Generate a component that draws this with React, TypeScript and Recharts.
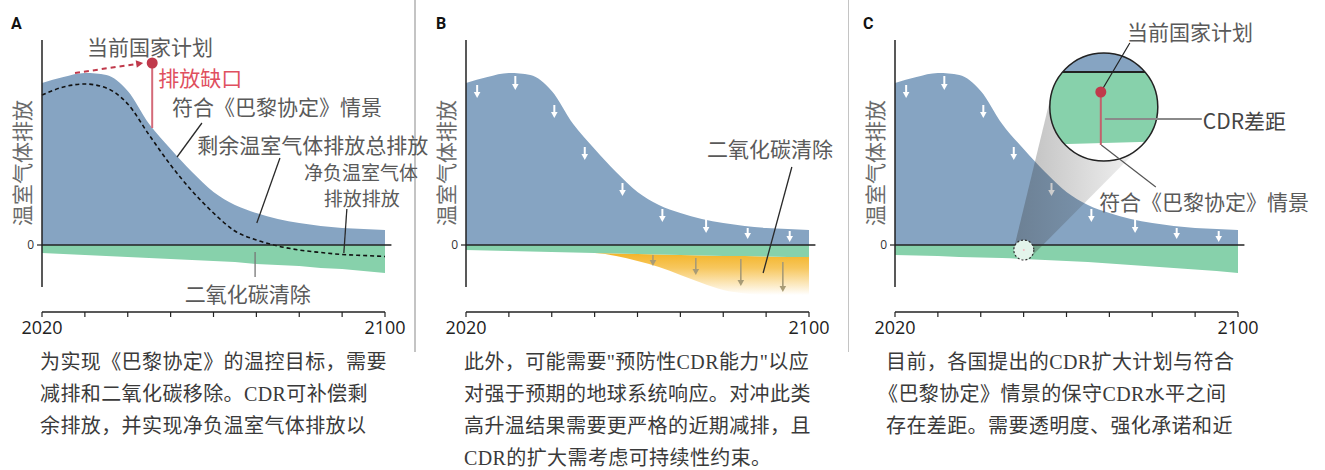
import React from 'react';
import {
  Area,
  ComposedChart,
  Line,
  ReferenceDot,
  ReferenceLine,
  XAxis,
  YAxis,
} from 'recharts';

const FONT = '"Noto Sans CJK SC", "Noto Sans", sans-serif';

// emission units are arbitrary; 0 = net zero
const years = [2020, 2025, 2030, 2035, 2040, 2045, 2050, 2055, 2060, 2065, 2070, 2075, 2080, 2085, 2090, 2095, 2100];
const remaining = [162, 168, 172, 170, 154, 121, 96, 73, 53, 40, 32, 26, 22, 19, 17, 16, 15];
const netA = [150, 158, 161, 157, 141, 110, 80, 54, 32, 14, 5, -1, -5, -7.5, -9.5, -10.5, -11.5];
const removalA = [-8, -9, -10, -11, -12, -13, -14, -15, -16, -17, -19, -20, -21, -23, -24, -26, -28];
const removalB = [-5, -5.5, -6, -6.5, -7, -7.5, -8, -8.5, -9, -9.5, -10, -10.5, -11, -11, -11.5, -12, -12];
const extraB = [-5, -5.5, -6, -6.5, -7, -7.5, -8, -11, -16, -22, -30, -38, -45, -48.5, -50, -50, -50];
const removalC = [-10, -10.5, -11, -12, -12.5, -13, -14, -15, -16, -17, -18.5, -20, -21.5, -23, -24.5, -26, -28];

const tickYears = [2020, 2030, 2040, 2050, 2060, 2070, 2080, 2090, 2100];
const tickLabels = [2020, 2100];

// white "cut" arrows (B, C)
const cutYears = [2022.6, 2031.5, 2040.6, 2047.7, 2056.5, 2065.8, 2076, 2085.7, 2095.5];
const cutTop = [160, 169, 140, 98, 62, 36, 26, 17, 14];
const cutBottom = [147, 155, 127, 85, 49, 23, 12, 6, 3];

// grey "extra removal" arrows (B)
const extraYears = [2063.6, 2073.6, 2084.1, 2093.9];
const extraTop = [-10, -13, -14, -17];
const extraBottom = [-21, -30, -41, -47];

const BLUE = '#86a4c2';
const GREEN = '#87d1ab';
const INK = '#222';
const TEXT = '#5a5a5a';
const RED = '#c0394b';

const W = 415;
const H = 345;
const margin = { top: 40, right: 30, bottom: 3, left: 12 };

const dataA = years.map((year, i) => ({ year, blue: [0, remaining[i]], green: [removalA[i], 0], net: netA[i] }));
const dataB = years.map((year, i) => ({ year, blue: [0, remaining[i]], green: [removalB[i], 0], extra: [extraB[i], removalB[i]] }));
const dataC = years.map((year, i) => ({ year, blue: [0, remaining[i]], green: [removalC[i], 0] }));

const arrow = (color: string, width: number, head: number, dash?: string) => (p: any) => {
  const { x1, y1, x2, y2 } = p;
  const a = Math.atan2(y2 - y1, x2 - x1);
  const bx = x2 - head * Math.cos(a);
  const by = y2 - head * Math.sin(a);
  const hw = head * 0.55;
  const nx = -Math.sin(a) * hw;
  const ny = Math.cos(a) * hw;
  return (
    <g>
      <line x1={x1} y1={y1} x2={bx} y2={by} stroke={color} strokeWidth={width} strokeDasharray={dash} />
      <path d={`M${x2},${y2}L${bx + nx},${by + ny}L${bx - nx},${by - ny}Z`} fill={color} />
    </g>
  );
};

const note = (key: string, x: number, y: number, text: string, o: any = {}) => (
  <ReferenceDot
    key={key}
    x={x}
    y={y}
    r={1}
    ifOverflow="visible"
    shape={(p: any) => (
      <text
        x={p.cx}
        y={p.cy}
        textAnchor={o.anchor ?? 'middle'}
        dominantBaseline="central"
        fontSize={o.size ?? 21}
        fill={o.color ?? TEXT}
        fontFamily={FONT}
        transform={o.rotate ? `rotate(-90 ${p.cx} ${p.cy})` : undefined}
      >
        {text}
      </text>
    )}
  />
);

const leader = (key: string, a: [number, number], b: [number, number], color = '#2a2a2a', width = 1.3) => (
  <ReferenceLine
    key={key}
    segment={[{ x: a[0], y: a[1] }, { x: b[0], y: b[1] }]}
    ifOverflow="visible"
    stroke={color}
    strokeWidth={width}
  />
);

const axes = () => [
  <XAxis
    key="x"
    dataKey="year"
    type="number"
    domain={[2020, 2100]}
    ticks={tickYears}
    interval={0}
    tickFormatter={(v: number) => (tickLabels.includes(v) ? String(v) : '')}
    tickSize={5}
    tickMargin={4}
    height={30}
    axisLine={{ stroke: INK, strokeWidth: 1.5 }}
    tickLine={{ stroke: INK, strokeWidth: 1.2 }}
    tick={{ fontSize: 18, fill: INK, fontFamily: '"Open Sans", sans-serif' }}
  />,
  <YAxis
    key="y"
    type="number"
    domain={[-67, 205]}
    ticks={[0]}
    allowDataOverflow
    width={30}
    axisLine={false}
    tickSize={5}
    tickMargin={3}
    tickLine={{ stroke: INK, strokeWidth: 1.2 }}
    tick={{ fontSize: 12, fill: '#333', fontFamily: '"Open Sans", sans-serif' }}
  />,
];

const frame = () => [
  <ReferenceLine key="vaxis" segment={[{ x: 2020, y: -42 }, { x: 2020, y: 205 }]} ifOverflow="visible" stroke={INK} strokeWidth={1.5} />,
  <ReferenceLine key="zero" segment={[{ x: 2020, y: 0 }, { x: 2101.5, y: 0 }]} ifOverflow="visible" stroke={INK} strokeWidth={1.5} />,
  note('ylab', 2015.2, 82, '温室气体排放', { rotate: true, color: '#6a6a6a' }),
];

const cutArrows = () =>
  cutYears.map((yr, i) => (
    <ReferenceLine
      key={'cut' + i}
      segment={[{ x: yr, y: cutTop[i] }, { x: yr, y: cutBottom[i] }]}
      ifOverflow="visible"
      shape={arrow('#ffffff', 2, 6)}
    />
  ));

const lens = (p: any) => {
  const cx = p.cx;
  const cy = p.cy;
  const R = 54;
  const sx = cx - 80;
  const sy = cy + 143;
  const r = 10;
  const dx = cx - sx;
  const dy = cy - sy;
  const L = Math.hypot(dx, dy);
  const ux = dx / L;
  const uy = dy / L;
  const k = (r - R) / L;
  const s = Math.sqrt(1 - k * k);
  const n1 = [k * ux - s * uy, k * uy + s * ux];
  const n2 = [k * ux + s * uy, k * uy - s * ux];
  const pts = [
    [sx + r * n1[0], sy + r * n1[1]],
    [cx + R * n1[0], cy + R * n1[1]],
    [cx + R * n2[0], cy + R * n2[1]],
    [sx + r * n2[0], sy + r * n2[1]],
  ]
    .map((q) => q.join(','))
    .join(' ');
  return (
    <g>
      <defs>
        <linearGradient id="coneFade" gradientUnits="userSpaceOnUse" x1={sx - r} y1={0} x2={cx + R} y2={0}>
          <stop offset="0" stopColor="#3a3a3a" stopOpacity={0.34} />
          <stop offset="1" stopColor="#3a3a3a" stopOpacity={0.02} />
        </linearGradient>
        <clipPath id="lensClip">
          <circle cx={cx} cy={cy} r={R} />
        </clipPath>
      </defs>
      <polygon points={pts} fill="url(#coneFade)" />
      <circle cx={cx} cy={cy} r={R} fill="#fff" />
      <g clipPath="url(#lensClip)">
        <rect x={cx - R} y={cy - R} width={2 * R} height={R - 35} fill={BLUE} />
        <path d={`M${cx - R},${cy - 35}L${cx + R},${cy - 35}L${cx + R},${cy + 34.5}Q${cx},${cy + 36} ${cx - R},${cy + 37.5}Z`} fill={GREEN} />
        <line x1={cx - R} x2={cx + R} y1={cy - 35} y2={cy - 35} stroke={INK} strokeWidth={2} />
      </g>
      <circle cx={cx} cy={cy} r={R} fill="none" stroke={INK} strokeWidth={1.5} />
      <circle cx={sx} cy={sy} r={r} fill="#e3f4eb" stroke="#333" strokeWidth={1.2} strokeDasharray="2 2" />
      <circle cx={sx} cy={sy} r={1} fill="#f2b8c0" />
      <line x1={cx + 1} y1={cy + 12} x2={cx + 98} y2={cy + 12} stroke="#8a8a8a" strokeWidth={1.8} />
      <line x1={cx - 2.5} y1={cy + 38} x2={cx + 52} y2={cy + 80} stroke="#555" strokeWidth={1.2} />
      <line x1={cx - 3} y1={cy - 15} x2={cx - 3} y2={cy + 38} stroke="#c4606c" strokeWidth={2} />
      <line x1={cx + 26} y1={cy - 64} x2={cx - 3} y2={cy - 15} stroke={INK} strokeWidth={1.2} />
      <circle cx={cx - 3} cy={cy - 15} r={5.5} fill={RED} />
    </g>
  );
};

function Panel({ left, data, children }: { left: number; data: any[]; children: React.ReactNode }) {
  return (
    <div style={{ position: 'absolute', left, top: 0 }}>
      <ComposedChart width={W} height={H} data={data} margin={margin}>
        {children}
      </ComposedChart>
    </div>
  );
}

const capStyle: React.CSSProperties = {
  position: 'absolute',
  top: 346,
  fontFamily: '"Liberation Serif", "Noto Sans CJK SC", serif',
  fontSize: 20,
  letterSpacing: 0.4,
  lineHeight: '32px',
  color: '#3a3a3a',
  whiteSpace: 'nowrap',
};

const letter = (left: number, ch: string) => (
  <div style={{ position: 'absolute', left, top: 14, fontFamily: 'Roboto, sans-serif', fontWeight: 700, fontSize: 16, color: '#111' }}>
    {ch}
  </div>
);

export default function App() {
  return (
    <div style={{ position: 'absolute', left: 0, top: 0, width: 1325, height: 470, background: '#fff', overflow: 'hidden' }}>
      <style>{'.recharts-surface{overflow:visible}'}</style>
      <div style={{ position: 'absolute', left: 414, top: 0, width: 1.5, height: 352, background: '#c4c4c4' }} />
      <div style={{ position: 'absolute', left: 847.5, top: 0, width: 1.5, height: 352, background: '#c4c4c4' }} />
      {letter(11, 'A')}
      {letter(436, 'B')}
      {letter(863, 'C')}

      <Panel left={0} data={dataA}>
        {axes()}
        <Area dataKey="blue" type="monotone" fill={BLUE} fillOpacity={1} stroke="none" isAnimationActive={false} />
        <Area dataKey="green" type="monotone" fill={GREEN} fillOpacity={1} stroke="none" isAnimationActive={false} />
        <Line dataKey="net" type="monotone" stroke="#111" strokeWidth={1.6} strokeDasharray="4 3" dot={false} isAnimationActive={false} />
        {frame()}
        <ReferenceLine segment={[{ x: 2027.7, y: 172 }, { x: 2043.6, y: 182 }]} ifOverflow="visible" shape={arrow(RED, 2, 7, '5 4')} />
        <ReferenceLine segment={[{ x: 2045.7, y: 182 }, { x: 2045.7, y: 117 }]} ifOverflow="visible" stroke="#d46a78" strokeWidth={2} />
        <ReferenceDot x={2045.7} y={182} r={5.5} fill={RED} stroke="none" ifOverflow="visible" />
        {leader('l1', [2057.3, 122], [2051.5, 88])}
        {leader('l2', [2075.5, 87], [2070.1, 22])}
        {leader('l3', [2091.1, 36], [2090.4, -8])}
        {leader('l4', [2069.7, -7], [2069.7, -32], '#777')}
        {note('t1', 2045.2, 199, '当前国家计划')}
        {note('t2', 2056.9, 168, '排放缺口', { color: '#e0505f' })}
        {note('t3', 2074.8, 139, '符合《巴黎协定》情景')}
        {note('t4', 2056.2, 101, '剩余温室气体排放总排放', { anchor: 'start' })}
        {note('t5', 2094.4, 74, '净负温室气体', { size: 19 })}
        {note('t6', 2094.6, 48, '排放排放', { size: 19 })}
        {note('t7', 2068, -48, '二氧化碳清除')}
      </Panel>

      <Panel left={424} data={dataB}>
        <defs>
          <linearGradient id="extraFade" x1="0" y1="0" x2="0" y2="1">
            <stop offset="0" stopColor="#f3b01c" />
            <stop offset="0.4" stopColor="#f7c75e" />
            <stop offset="1" stopColor="#ffffff" />
          </linearGradient>
        </defs>
        {axes()}
        <Area dataKey="blue" type="monotone" fill={BLUE} fillOpacity={1} stroke="none" isAnimationActive={false} />
        <Area dataKey="extra" type="monotone" fill="url(#extraFade)" fillOpacity={1} stroke="none" isAnimationActive={false} />
        <Area dataKey="green" type="monotone" fill={GREEN} fillOpacity={1} stroke="none" isAnimationActive={false} />
        {frame()}
        {cutArrows()}
        {extraYears.map((yr, i) => (
          <ReferenceLine
            key={'ex' + i}
            segment={[{ x: yr, y: extraTop[i] }, { x: yr, y: extraBottom[i] }]}
            ifOverflow="visible"
            shape={arrow('#a89b76', 1.6, 6)}
          />
        ))}
        {leader('lb', [2096.0, 78], [2089.3, -28])}
        {note('tb', 2090.9, 97, '二氧化碳清除')}
      </Panel>

      <Panel left={853} data={dataC}>
        {axes()}
        <Area dataKey="blue" type="monotone" fill={BLUE} fillOpacity={1} stroke="none" isAnimationActive={false} />
        <Area dataKey="green" type="monotone" fill={GREEN} fillOpacity={1} stroke="none" isAnimationActive={false} />
        {frame()}
        {cutArrows()}
        <ReferenceDot x={2068.7} y={138} r={54} ifOverflow="visible" shape={lens} />
        {note('tc1', 2088.8, 214, '当前国家计划')}
        {note('tc2', 2091.8, 125, 'CDR差距', { anchor: 'start', color: '#444' })}
        {note('tc3', 2092.1, 44, '符合《巴黎协定》情景')}
      </Panel>

      <div style={{ ...capStyle, left: 40 }}>
        <div>为实现《巴黎协定》的温控目标，需要</div>
        <div>减排和二氧化碳移除。CDR可补偿剩</div>
        <div>余排放，并实现净负温室气体排放以</div>
      </div>
      <div style={{ ...capStyle, left: 464 }}>
        <div>此外，可能需要"预防性CDR能力"以应</div>
        <div>对强于预期的地球系统响应。对冲此类</div>
        <div>高升温结果需要更严格的近期减排，且</div>
        <div>CDR的扩大需考虑可持续性约束。</div>
      </div>
      <div style={{ ...capStyle, left: 886 }}>
        <div>目前，各国提出的CDR扩大计划与符合</div>
        <div style={{ marginLeft: -8 }}>《巴黎协定》情景的保守CDR水平之间</div>
        <div>存在差距。需要透明度、强化承诺和近</div>
      </div>
    </div>
  );
}
